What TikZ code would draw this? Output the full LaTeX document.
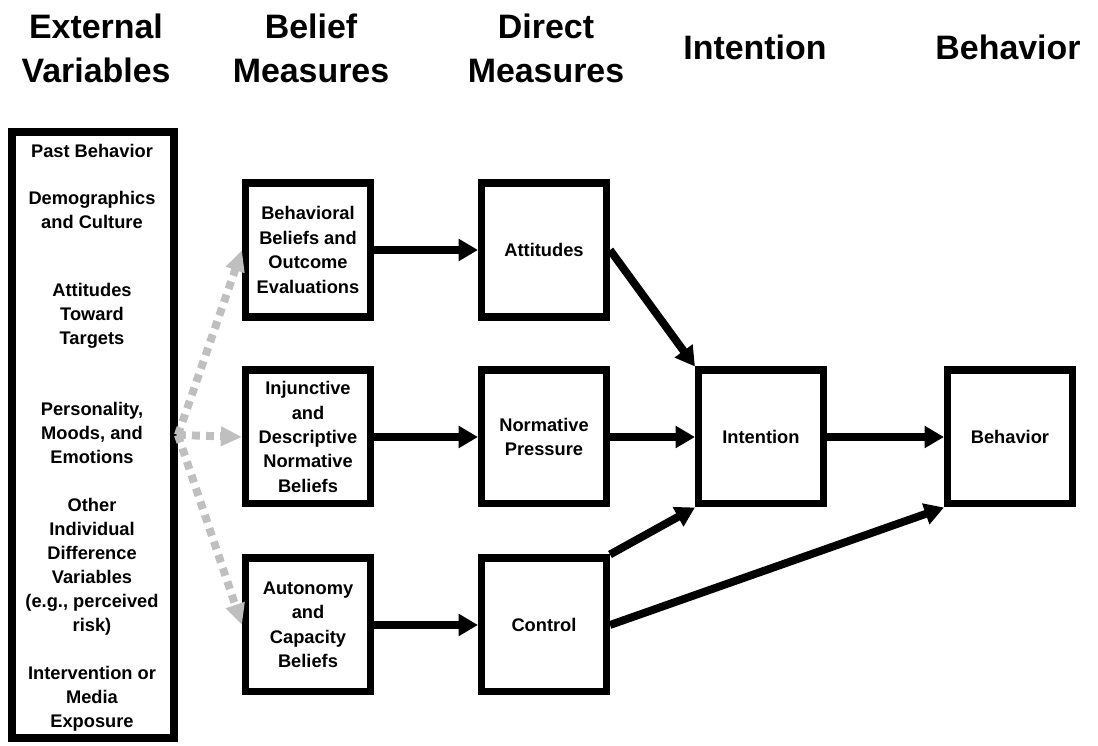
\documentclass[tikz,border=0pt]{standalone}
\usepackage{fontspec}
\setmainfont{Liberation Sans}
\usepackage{xcolor}
\usetikzlibrary{arrows.meta,positioning}

\begin{document}
\begin{tikzpicture}[x=0.02cm, y=-0.02cm,
  headlbl/.style={font=\fontsize{19.3}{25}\selectfont\bfseries, align=center},
  extbox/.style={draw=black, line width=4.5pt, minimum width=3.24cm,
    minimum height=12.12cm},
  extlbl/.style={font=\fontsize{10.4}{13.6}\selectfont\bfseries, align=center},
  modelbox/.style={draw=black, line width=4pt, minimum width=2.5cm,
    minimum height=2.68cm, inner sep=0pt, align=center,
    font=\fontsize{10.4}{13.9}\selectfont\bfseries},
  arr/.style={line width=4.5pt, -{Triangle[length=11pt, width=12pt]}},
  grayarr/.style={line width=4.5pt, draw=black!25, dash pattern=on 4.5pt off 3.5pt,
    -{Triangle[length=12pt, width=10.5pt, fill=black!25]}}
]
\useasboundingbox (0,0) rectangle (1098,746);

% column headings
\node[headlbl] (hext) at (96,48)   {External\\Variables};
\node[headlbl] (hbel) at (311,48)  {Belief\\Measures};
\node[headlbl] (hdir) at (546,48)  {Direct\\Measures};
\node[headlbl] (hint) at (755,47)  {Intention};
\node[headlbl] (hbeh) at (1008,47) {Behavior};

% external variables
\node[extbox] (ext) at (93,435) {};
\node[extlbl] (past)   at (92,151) {Past Behavior};
\node[extlbl] (demo)   at (92,210) {Demographics\\and Culture};
\node[extlbl] (tgt)    at (92,316) {Attitudes\\Toward\\Targets};
\node[extlbl] (pers)   at (92,433) {Personality,\\Moods, and\\Emotions};
\node[extlbl] (other)  at (92,567) {Other\\Individual\\Difference\\Variables\\(e.g., perceived\\risk)};
\node[extlbl] (interv) at (92,699) {Intervention or\\Media\\Exposure};

% belief measures
\node[modelbox] (bb) at (308,250) {Behavioral\\Beliefs and\\Outcome\\Evaluations};
\node[modelbox, below=0.92cm of bb] (nb) {Injunctive\\and\\Descriptive\\Normative\\Beliefs};
\node[modelbox, below=0.94cm of nb] (cb) {Autonomy\\and\\Capacity\\Beliefs};

% direct measures
\node[modelbox, right=2.08cm of bb] (att)  {Attitudes};
\node[modelbox, right=2.08cm of nb] (norm) {Normative\\Pressure};
\node[modelbox, right=2.08cm of cb] (ctl)  {Control};

% intention and behavior
\node[modelbox, right=1.7cm of norm] (int) {Intention};
\node[modelbox, right=2.34cm of int] (beh) {Behavior};

\draw[grayarr] (ext.east) -- (bb.west);
\draw[grayarr] (ext.east) -- (nb.west);
\draw[grayarr] (ext.east) -- (cb.west);

\draw[arr] (bb.east) -- (att.west);
\draw[arr] (nb.east) -- (norm.west);
\draw[arr] (cb.east) -- (ctl.west);

\draw[arr] (att.east) -- (int.north west);
\draw[arr] (norm.east) -- (int.west);
\draw[arr] (ctl.north east) -- (int.south west);
\draw[arr] (ctl.east) -- (beh.south west);
\draw[arr] (int.east) -- (beh.west);
\end{tikzpicture}
\end{document}
